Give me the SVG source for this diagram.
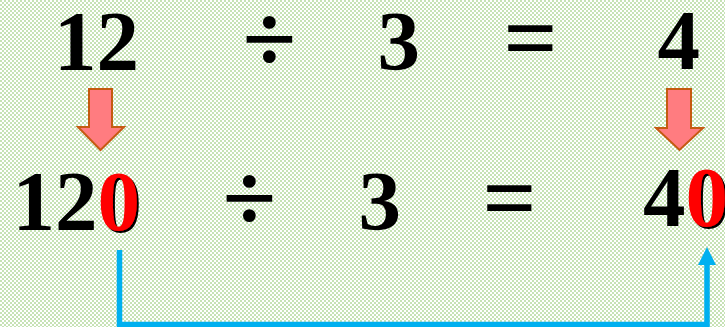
<svg xmlns="http://www.w3.org/2000/svg" width="725" height="327" viewBox="0 0 725 327">
  <defs>
    <pattern id="chk" x="0" y="0" width="4" height="4" patternUnits="userSpaceOnUse">
      <rect width="4" height="4" fill="#ffffff"/>
      <rect x="0" y="0" width="2" height="2" fill="#c6e2b5"/>
      <rect x="2" y="2" width="2" height="2" fill="#c6e2b5"/>
    </pattern>
    <marker id="blueHead" markerUnits="userSpaceOnUse" viewBox="0 0 18 18" markerWidth="18" markerHeight="18" refX="0" refY="9" orient="auto">
      <path d="M0,0 L18,9 L0,18 z" fill="#00b0f0"/>
    </marker>
    <filter id="shadow" x="-20%" y="-20%" width="140%" height="140%">
      <feDropShadow dx="2" dy="2" stdDeviation="0.4" flood-color="#000000" flood-opacity="1"/>
    </filter>
  </defs>
  <style>
    .num { font-family: "Liberation Serif", "Times New Roman", serif; font-weight: bold; font-size: 85px; fill: #000000; }
    .div { font-size: 98px; }
    .eq { font-size: 95px; }
    .red { fill: #ff0000; filter: url(#shadow); }
    .down { fill: #ff7c80; stroke: #c55a11; stroke-width: 2; stroke-linejoin: miter; }
    .conn { fill: none; stroke: #00b0f0; stroke-width: 5.5; stroke-linejoin: miter; }
  </style>
  <rect width="725" height="327" fill="url(#chk)"/>

  <g id="row1">
    <text id="t12" class="num" x="54" y="70">12</text>
    <text id="tdiv1" class="num div" x="242.5" y="72">÷</text>
    <text id="t3a" class="num" x="377.5" y="70">3</text>
    <text id="teq1" class="num eq" x="503.5" y="69.5">=</text>
    <text id="t4" class="num" x="657.5" y="69">4</text>
  </g>

  <g id="arrowLeft">
    <polygon class="down" points="89,89 112,89 112,127 124,127 100.5,150 78,127 89,127"/>
  </g>
  <g id="arrowRight">
    <polygon class="down" points="667,89 691,89 691,128 703,128 679.5,150 656,128 667,128"/>
  </g>

  <g id="row2">
    <text id="t120" class="num" x="12.5" y="230">12<tspan class="red">0</tspan></text>
    <text id="tdiv2" class="num div" x="222.5" y="231">÷</text>
    <text id="t3b" class="num" x="358.5" y="230">3</text>
    <text id="teq2" class="num eq" x="482.5" y="230">=</text>
    <text id="t40" class="num" x="643" y="226">4<tspan class="red">0</tspan></text>
  </g>

  <g id="connectors">
    <path class="conn" d="M119.5,250 V324.5 H707 V265" marker-end="url(#blueHead)"/>
  </g>
</svg>
